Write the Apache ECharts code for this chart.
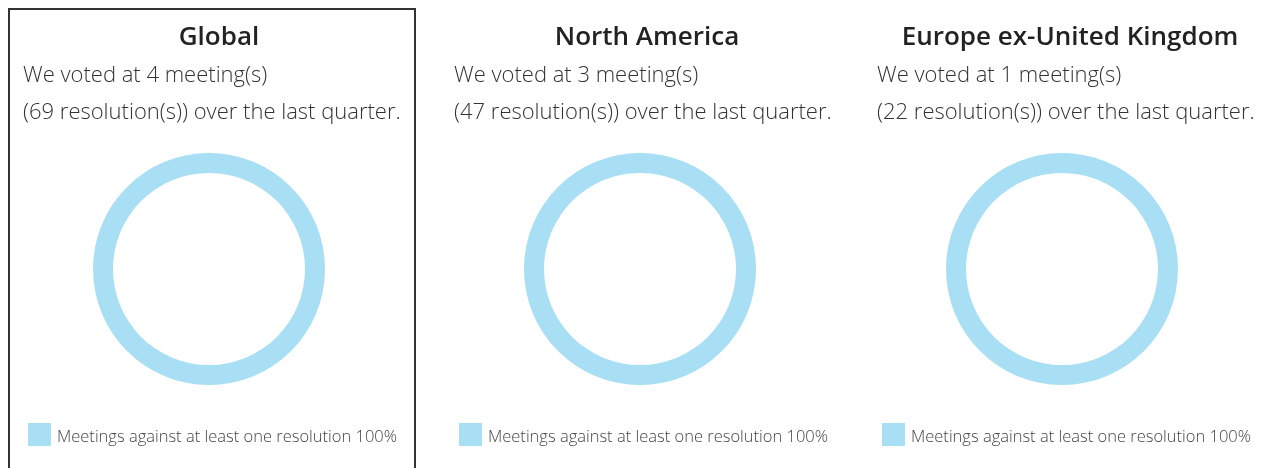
<!DOCTYPE html>
<html>
<head>
<meta charset="utf-8">
<script src="https://cdn.jsdelivr.net/npm/echarts@6/dist/echarts.min.js"></script>
<style>
html,body{margin:0;padding:0;background:#fff;}
#chart{width:1264px;height:468px;}
</style>
</head>
<body>
<div id="chart"></div>
<script>
const regions = ['Global', 'North America', 'Europe ex-United Kingdom'];
const meetings = [4, 3, 1];
const resolutions = [69, 47, 22];
const categoryName = 'Meetings against at least one resolution';
const percentValues = [100, 100, 100];

const panelLeft = [23, 454, 877];
const pieCenterX = [209, 640, 1062];
const titleCenterX = [219, 647, 1070];
const ringColor = '#a8dff4';
const fontFamily = '"Open Sans", Lato, sans-serif';

const chart = echarts.init(document.getElementById('chart'), null, {renderer: 'canvas'});

const titles = [];
const series = [];
const legends = [];
regions.forEach((r, i) => {
  titles.push({
    text: r, left: titleCenterX[i], top: 25, textAlign: 'center', padding: 0,
    textStyle: {fontFamily, fontSize: 26, fontWeight: 600, color: '#222'}
  });
  titles.push({
    text: 'We voted at ' + meetings[i] + ' meeting(s)', left: panelLeft[i], top: 65, padding: 0,
    textStyle: {fontFamily, fontSize: 22, fontWeight: 300, color: '#333'}
  });
  titles.push({
    text: '(' + resolutions[i] + ' resolution(s)) over the last quarter.', left: panelLeft[i], top: 102, padding: 0,
    textStyle: {fontFamily, fontSize: 22, fontWeight: 300, color: '#333'}
  });
  const itemName = categoryName + ' ' + percentValues[i] + '%';
  series.push({
    type: 'pie', silent: true,
    center: [pieCenterX[i], 269], radius: [96, 116],
    label: {show: false}, labelLine: {show: false},
    itemStyle: {color: ringColor},
    data: [{name: itemName, value: percentValues[i]}]
  });
  legends.push({
    data: [itemName], left: panelLeft[i] + 5, top: 423, padding: 0,
    itemWidth: 23, itemHeight: 23, itemGap: 6,
    icon: 'rect', selectedMode: false,
    formatter: '{t|{name}}',
    textStyle: {
      fontFamily, fontSize: 16.5, fontWeight: 300, color: '#444',
      rich: {t: {fontFamily, fontSize: 16.5, fontWeight: 300, color: '#444', padding: [5, 0, 0, 1]}}
    }
  });
});

chart.setOption({
  animation: false,
  title: titles,
  legend: legends,
  series: series,
  graphic: [{
    type: 'rect', shape: {x: 9, y: 9, width: 406, height: 470},
    style: {fill: 'none', stroke: '#333', lineWidth: 2}, silent: true
  }]
});
</script>
</body>
</html>
